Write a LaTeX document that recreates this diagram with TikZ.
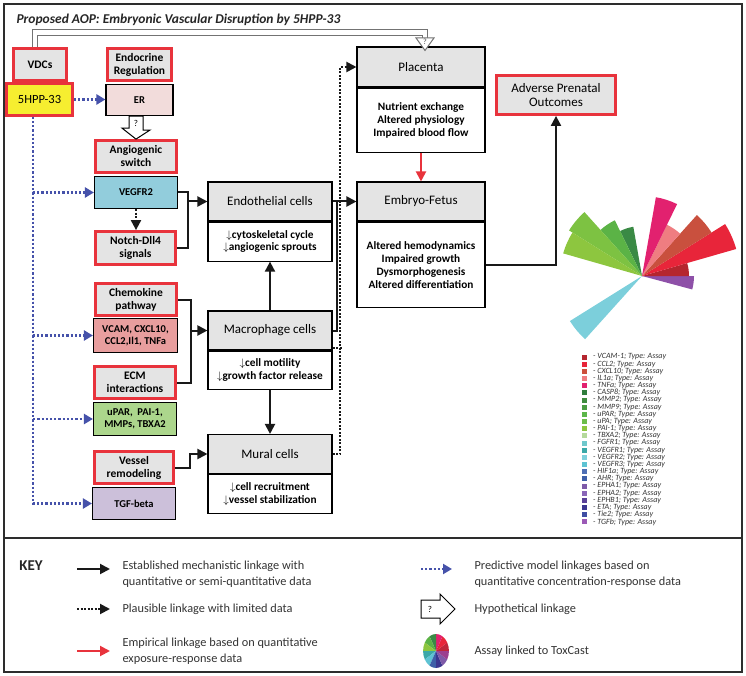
\documentclass[tikz,border=0pt]{standalone}
\usepackage{fontspec}
\setmainfont{Carlito}
\usetikzlibrary{arrows.meta,calc}

\definecolor{aopred}{RGB}{232,51,60}
\definecolor{hdrgray}{RGB}{228,228,228}
\definecolor{framegray}{RGB}{45,45,45}
\definecolor{predblue}{RGB}{70,82,170}
\definecolor{hppyellow}{RGB}{246,238,48}
\definecolor{erpink}{RGB}{242,220,219}
\definecolor{vegfcyan}{RGB}{146,205,220}
\definecolor{vcampink}{RGB}{232,158,158}
\definecolor{ecmgreen}{RGB}{172,214,140}
\definecolor{tgfpurple}{RGB}{204,192,218}

\tikzset{
  redbox/.style={draw=aopred, line width=2.8pt, fill=hdrgray, align=center, inner sep=0pt,
    font=\bfseries\fontsize{11.5}{13}\selectfont},
  genebox/.style={draw=black, line width=1.1pt, align=center, inner sep=0pt,
    font=\bfseries\fontsize{10.5}{12}\selectfont},
  cellhead/.style={draw=black, line width=1.1pt, fill=hdrgray, minimum width=124, minimum height=39,
    inner sep=0pt, font=\fontsize{13}{15}\selectfont},
  cellbody/.style={draw=black, line width=1.1pt, fill=white, minimum width=124, align=center,
    inner sep=0pt, font=\bfseries\fontsize{11.3}{13}\selectfont},
  mechline/.style={draw=black!90, line width=2pt},
  mech/.style={mechline, -{Triangle[length=10pt,width=10pt]}},
  plaus/.style={draw=black!90, line width=2pt, dash pattern=on 2pt off 1.5pt},
  plausarr/.style={plaus, -{Triangle[length=10pt,width=10pt]}},
  predict/.style={draw=predblue, line width=2.2pt, dash pattern=on 2.2pt off 2pt,
    -{Triangle[length=9pt,width=10pt]}},
  empir/.style={draw=aopred, line width=2pt, -{Triangle[length=10pt,width=10pt]}},
  hollow/.style={draw=black, line width=1pt, fill=white, line join=miter},
  keytext/.style={anchor=west, align=left, text=black!80, font=\fontsize{12.3}{15.5}\selectfont},
}

\begin{document}
\begin{tikzpicture}[x=1pt,y=-1pt]
\useasboundingbox (0,0) rectangle (746,676);

\draw[framegray, line width=2.5pt] (4,4) rectangle (742,672);
\draw[framegray, line width=2.5pt] (4,538) -- (742,538);
\node[anchor=west, text=black!85, font=\bfseries\itshape\fontsize{13.5}{16}\selectfont] (title) at (13,20)
  {Proposed AOP: Embryonic Vascular Disruption by 5HPP-33};

\node[redbox, minimum width=53, minimum height=32] (vdc) at (40,64.5) {VDCs};
\node[redbox, fill=hppyellow, minimum width=66, minimum height=32, font=\fontsize{12.5}{14}\selectfont] (hpp) at (39.5,99.5) {5HPP-33};
\node[redbox, minimum width=64, minimum height=32] (endo) at (139.5,64.5) {Endocrine\\Regulation};
\node[genebox, fill=erpink, minimum width=67, minimum height=31] (er) at (139.5,100) {ER};
\node[redbox, minimum width=81, minimum height=32] (ang) at (136,156.5) {Angiogenic\\switch};
\node[genebox, fill=vegfcyan, minimum width=83, minimum height=32] (vegf) at (136,192.5) {VEGFR2};
\node[redbox, minimum width=80, minimum height=33] (notch) at (135.5,248) {Notch-Dll4\\signals};
\node[redbox, minimum width=81, minimum height=32] (chem) at (136,299.5) {Chemokine\\pathway};
\node[genebox, fill=vcampink, minimum width=84, minimum height=34] (vcam) at (135.5,335.5) {VCAM, CXCL10,\\CCL2,Il1, TNFa};
\node[redbox, minimum width=81, minimum height=32] (ecm) at (135,382.5) {ECM\\interactions};
\node[genebox, fill=ecmgreen, minimum width=83, minimum height=33] (upar) at (135,419) {uPAR,\ \ PAI-1,\\MMPs, TBXA2};
\node[redbox, minimum width=79, minimum height=32] (vessel) at (134,467.5) {Vessel\\remodeling};
\node[genebox, fill=tgfpurple, minimum width=83, minimum height=32] (tgf) at (134,503.5) {TGF-beta};

\node[cellhead] (endoh) at (270,201.5) {Endothelial cells};
\node[cellbody, minimum height=39, anchor=north] (endob) at (endoh.south) {$\downarrow$cytoskeletal cycle\\$\downarrow$angiogenic sprouts};
\node[cellhead] (macroh) at (270,330.5) {Macrophage cells};
\node[cellbody, minimum height=38, anchor=north] (macrob) at (macroh.south) {$\downarrow$cell motility\\$\downarrow$growth factor release};
\node[cellhead] (muralh) at (270,454) {Mural cells};
\node[cellbody, minimum height=39, anchor=north] (muralb) at (muralh.south) {$\downarrow$cell recruitment\\$\downarrow$vessel stabilization};

\node[cellhead, minimum width=128, minimum height=40] (plah) at (421,67) {Placenta};
\node[cellbody, minimum width=128, minimum height=64, anchor=north] (plab) at (plah.south) {Nutrient exchange\\Altered physiology\\Impaired blood flow};
\node[cellhead, minimum width=128] (embh) at (421,201.5) {Embryo-Fetus};
\node[cellbody, minimum width=128, minimum height=85, anchor=north] (embb) at (embh.south) {Altered hemodynamics\\Impaired growth\\Dysmorphogenesis\\Altered differentiation};
\node[redbox, minimum width=119, minimum height=39, font=\fontsize{13}{14.5}\selectfont] (adv) at (556,95) {Adverse Prenatal\\Outcomes};

\coordinate (qtop) at ($(plah.north)+(4,-14)$);
\draw[black!55, line width=1pt, double=white, double distance=4.5pt] ($(vdc.north)+(-5,0)$) |- (qtop) -- ++(0,6);
\draw[hollow, draw=black!55] ($(qtop)+(-9,5.5)$) -- ++(18,0) -- ($(qtop |- plah.north)+(0,4)$) -- cycle;
\node[font=\fontsize{8}{9}\selectfont, text=black!70] (q0) at ($(qtop)+(0,9)$) {?};

\draw[hollow] (ang.north) -- ++(-14,-11) -- ++(7,0) |- ($(er.south -| ang.north)+(7,0)$) -- ++(0,14) -- ++(7,0) -- cycle;
\node[font=\fontsize{9}{10}\selectfont] (q1) at ($(er.south -| ang.north)+(0,7)$) {?};

\coordinate (trunk) at ($(hpp.south)+(-6.5,0)$);
\draw[predict] (hpp.east) -- (hpp.east -| er.west);
\foreach \t in {vegf,vcam,upar,tgf}
  \draw[predict] (trunk) |- (\t.west);

\coordinate (vj) at ($(endoh.west)+(-19,0)$);
\draw[mechline] (vegf.east) -| (vj) |- (notch.east);
\draw[mech] (vj) -- (endoh.west);
\draw[plausarr] (vegf.south) -- (vegf.south |- notch.north);
\coordinate (cj) at ($(macroh.west)+(-16,0)$);
\draw[mechline] (chem.east) -| (cj) |- (ecm.east);
\draw[mech] (cj) -- (macroh.west);
\draw[mech] (vessel.east) -| ($(muralh.west)+(-17,0)$) -- (muralh.west);

\draw[mech] (macroh.north) -- (endob.south);
\draw[mech] (macrob.south) -- (muralh.north);
\draw[mech] (endoh.east) -- (embh.west);
\draw[mechline] (macroh.east) -| ($(endoh.east)+(4,0)$);
\draw[plausarr] (muralh.east) -| ($(plah.west)+(-16,0)$) -- (plah.west);
\draw[plaus] ($(macroh.south east)+(0,-3)$) -- ++(9,0);
\draw[empir] (plab.south) -- (embh.north);
\draw[mech] (embb.east) -| (adv.south);

\begin{scope}[shift={(642,276)}, yscale=-1]
\foreach \a/\b/\r/\c in {212/228/85/7CCFDB, -15/0/52/8E50A8, 0/16/47/B5262F, 16/32/98/E8253A,
    32/48/82/C9503E, 48/64/57/EF7D81, 64/80/80/E2216F, 100/116/50/3A8A45,
    116/132/62/5BB346, 132/148/86/7DC242, 148/164/82/8DC63F} {
  \definecolor{wedge}{HTML}{\c}
  \fill[wedge] (0,0) -- (\a:\r) arc[start angle=\a, end angle=\b, radius=\r] -- cycle;
}
\end{scope}

\foreach \g/\c [count=\i from 0] in {VCAM-1/B5262F, CCL2/E8253A, CXCL10/CC4F3C, IL1a/EF7D81,
    TNFa/E2216F, CASP8/2F7D3C, MMP2/3F8C3F, MMP9/4A9C43, uPAR/5CB64A, uPA/6CBD4A,
    PAI-1/8CC63F, TBXA2/B5D99C, FGFR1/6FC8CC, VEGFR1/3AA8A8, VEGFR2/7FD0DC, VEGFR3/5EC3D3,
    HIF1a/4F6FB5, AHR/3E5FA8, EPHA1/7E5AA8, EPHA2/8A66B8, EPHB1/5A4098, ETA/3C3690,
    Tie2/3F4EA3, TGFb/9B59B6} {
  \definecolor{legc}{HTML}{\c}
  \fill[legc] (582,{354.5+7.17*\i}) rectangle ++(5,5);
  \node[anchor=west, inner sep=0pt, text=black!80, font=\itshape\fontsize{8}{8}\selectfont] (leg\i) at (593,{357+7.17*\i}) {- \g; Type: Assay};
}

\node[text=black!85, font=\bfseries\fontsize{15}{17}\selectfont] (key) at (31,566) {KEY};
\node[keytext] (k1) at (119,574) {Established mechanistic linkage with\\quantitative or semi-quantitative data};
\node[keytext] (k2) at (119,609) {Plausible linkage with limited data};
\node[keytext] (k3) at (119,651) {Empirical linkage based on quantitative\\exposure-response data};
\node[keytext] (k4) at (471,574) {Predictive model linkages based on\\quantitative concentration-response data};
\node[keytext] (k5) at (471,609) {Hypothetical linkage};
\node[keytext] (k6) at (471,651) {Assay linked to ToxCast};

\draw[mech] ($(k1.west)+(-42,-5)$) -- ($(k1.west)+(-9,-5)$);
\draw[plausarr] ($(k2.west)+(-42,0)$) -- ($(k2.west)+(-9,0)$);
\draw[empir] ($(k3.west)+(-42,0)$) -- ($(k3.west)+(-9,0)$);
\draw[predict] ($(k4.west)+(-50,-5)$) -- ($(k4.west)+(-19,-5)$);
\draw[hollow] ($(k5.west)+(-50,-9)$) -- ($(k5.west)+(-31,-9)$) -- ($(k5.west)+(-31,-15)$) -- ($(k5.west)+(-16,0)$)
  -- ($(k5.west)+(-31,15)$) -- ($(k5.west)+(-31,9)$) -- ($(k5.west)+(-50,9)$) -- cycle;
\node[font=\fontsize{9}{10}\selectfont] (q2) at ($(k5.west)+(-41,0)$) {?};

\begin{scope}[shift={($(k6.west)+(-35,0)$)}, xscale=0.76, yscale=-1]
\foreach \c [count=\i from 0] in {C0263A, E8253A, E2216F, 3A8A45, 5BB346, 8DC63F,
    3AA8A8, 5EC3D3, 3E5FA8, 3C3690, 7E5AA8, 9B3F8F} {
  \definecolor{piec}{HTML}{\c}
  \fill[piec] (0,0) -- ({30*\i}:17) arc[start angle={30*\i}, end angle={30*\i+30}, radius=17] -- cycle;
}
\end{scope}

\end{tikzpicture}
\end{document}
